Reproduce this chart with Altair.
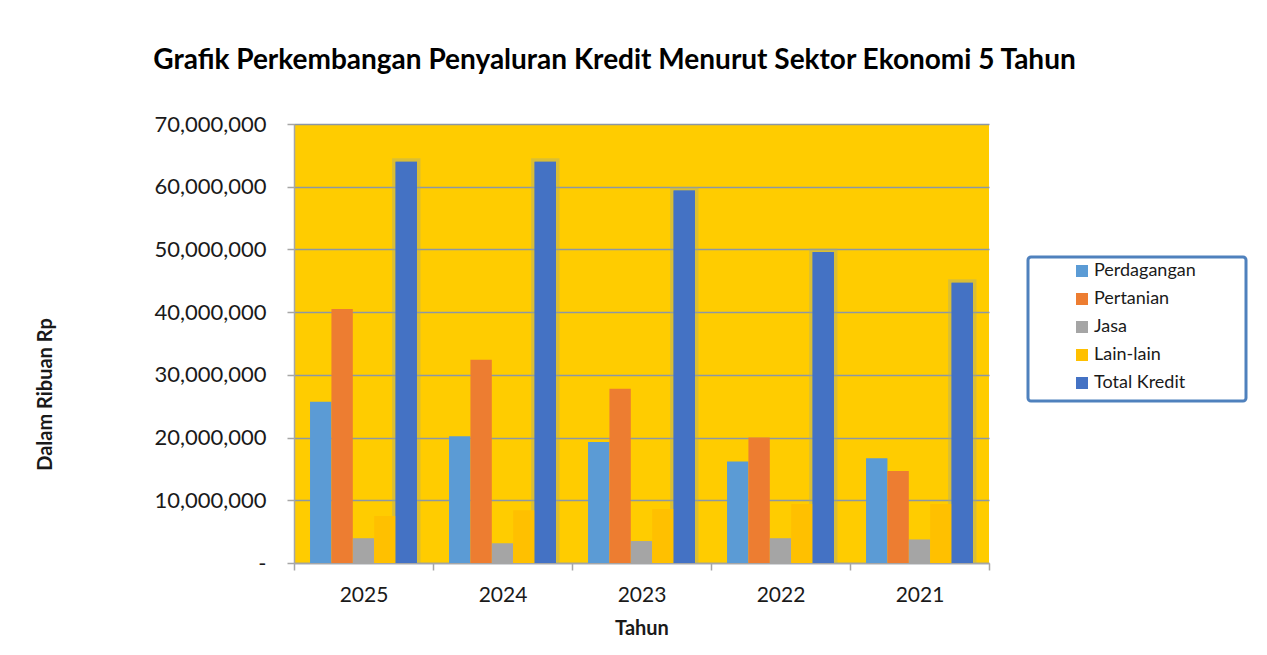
import altair as alt
import pandas as pd

years = ["2025", "2024", "2023", "2022", "2021"]
series = ["Perdagangan", "Pertanian", "Jasa", "Lain-lain", "Total Kredit"]
perdagangan = [25700000, 20200000, 19300000, 16200000, 16700000]
pertanian = [40500000, 32400000, 27800000, 20000000, 14650000]
jasa = [3950000, 3150000, 3500000, 3950000, 3750000]
lain_lain = [7500000, 8400000, 8600000, 9400000, 9400000]
total_kredit = [64000000, 64000000, 59400000, 49600000, 44700000]
colors = ["#5b9bd5", "#ed7d31", "#a5a5a5", "#ffc000", "#4472c4"]
y_ticks = [0, 10000000, 20000000, 30000000, 40000000, 50000000, 60000000, 70000000]

rows = []
for i, yr in enumerate(years):
    for s, vals in zip(series, [perdagangan, pertanian, jasa, lain_lain, total_kredit]):
        rows.append({"Tahun": yr, "Sektor": s, "Nilai": vals[i]})
df = pd.DataFrame(rows)

FONT = "Lato"
TXT = "#1a1a1a"

x_enc = alt.X(
    "Tahun:N", sort=years,
    scale=alt.Scale(paddingInner=0, paddingOuter=0),
    axis=alt.Axis(
        title="Tahun", tickBand="extent", tickSize=7, labelPadding=14,
        labelFont=FONT, labelFontSize=21, labelColor=TXT, labelAngle=0,
        titleFont=FONT, titleFontSize=20, titleFontWeight="bold", titleColor=TXT,
        titleY=65, titleBaseline="middle", grid=False,
        domainColor="#a6a6a6", tickColor="#a6a6a6", domainWidth=1.5, tickWidth=1.5,
    ),
)
xoff = alt.XOffset("Sektor:N", sort=series,
                   scale=alt.Scale(domain=series, paddingInner=0, paddingOuter=0.75))
y_enc = alt.Y(
    "Nilai:Q",
    scale=alt.Scale(domain=[0, 70000000], nice=False),
    axis=alt.Axis(
        title="Dalam Ribuan Rp", values=y_ticks,
        labelExpr="datum.value == 0 ? '-    ' : format(datum.value, ',')",
        tickSize=7, labelPadding=21,
        labelFont=FONT, labelFontSize=22, labelColor=TXT,
        titleFont=FONT, titleFontSize=20, titleFontWeight="bold", titleColor=TXT,
        titleX=-249, titleY=270, titleBaseline="middle", titleAlign="center", titleAngle=270,
        grid=True, gridColor="#8c97a5", gridWidth=1.5,
        domainColor="#a6a6a6", tickColor="#a6a6a6", domainWidth=1.5, tickWidth=1.5,
    ),
)
color = alt.Color(
    "Sektor:N", sort=series,
    scale=alt.Scale(domain=series, range=colors),
    legend=alt.Legend(
        title="x" * 86, titleFont="DejaVu Sans Mono", titleFontSize=4, titleOpacity=0,
        titleOrient="bottom", titlePadding=0, titleLimit=600,
        orient="none", legendX=734, legendY=133,
        symbolType="square", symbolSize=144, symbolStrokeWidth=0,
        symbolOffset=40, labelOffset=3, rowPadding=10,
        labelFont=FONT, labelFontSize=18, labelColor=TXT,
        padding=5, fillColor="#ffffff", strokeColor="#4f81bd", cornerRadius=3,
    ),
)

base = alt.Chart(df)
glow = base.transform_filter("datum.Sektor == 'Total Kredit'").mark_bar(
    color="#4472c4", stroke="#a3ab82", strokeWidth=7, strokeOpacity=0.4, clip=True
).encode(x=x_enc, xOffset=xoff, y=y_enc)
bars = base.mark_bar().encode(x=x_enc, xOffset=xoff, y=y_enc, color=color)

chart = alt.layer(glow, bars).properties(
    width=695, height=439,
    autosize="none",
    padding={"left": 286, "top": 116, "right": 262, "bottom": 80},
    title=alt.TitleParams(
        text="Grafik Perkembangan Penyaluran Kredit Menurut Sektor Ekonomi 5 Tahun",
        font=FONT, fontSize=28, fontWeight="bold", color="#000000",
        anchor="middle", dx=-27, offset=38,
    ),
).configure_view(fill="#ffcc00", stroke=None).configure_legend(strokeWidth=3)

chart.save("out.html", embed_options={"renderer": "svg", "actions": False})
